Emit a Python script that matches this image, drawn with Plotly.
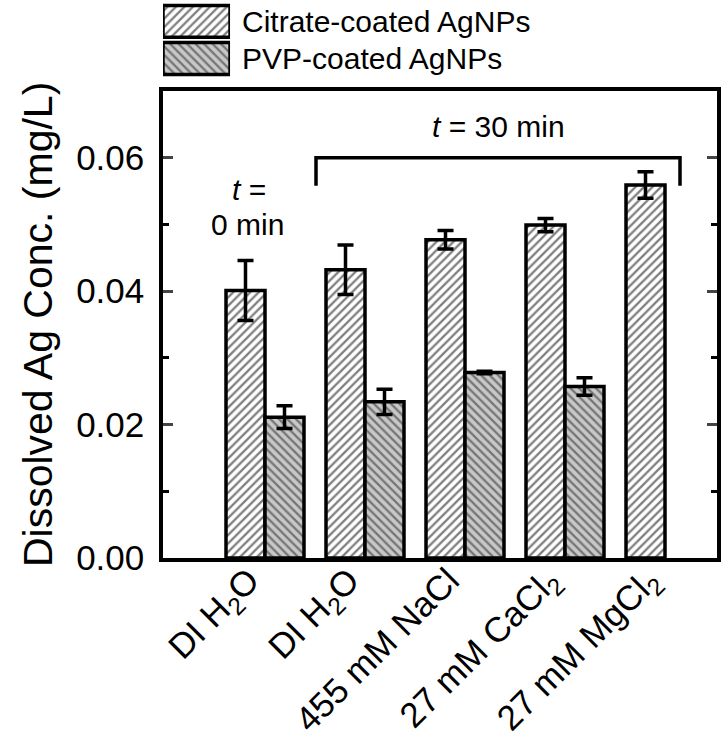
import plotly.graph_objects as go

# categories (x positions are indices; labels go on ticks)
conditions = ["DI H<sub>2</sub>O", "DI H<sub>2</sub>O", "455 mM NaCl",
              "27 mM CaCl<sub>2</sub>", "27 mM MgCl<sub>2</sub>"]
positions = [0, 1, 2, 3, 4]

# dissolved Ag (mg/L)
citrate_conc = [0.0401, 0.0432, 0.0477, 0.0499, 0.0559]
citrate_err = [0.0045, 0.0037, 0.0014, 0.0010, 0.0020]
pvp_conc = [0.0211, 0.0234, 0.0278, 0.0257, None]
pvp_err = [0.0017, 0.0019, 0.0002, 0.0013, None]

y_ticks = [0.00, 0.02, 0.04, 0.06]

series_names = ["Citrate-coated AgNPs", "PVP-coated AgNPs"]
legend_keys = [1, 1]  # full-width key boxes for the hand-made legend

FONT = "Liberation Sans, Arial, sans-serif"
PVP_GREY = "#c8c8c8"
LINE_W = 3.5

citrate_marker = dict(color="white", line=dict(color="black", width=LINE_W),
                      pattern=dict(shape="/", fgcolor="black", bgcolor="white",
                                   size=6, solidity=0.38))
pvp_marker = dict(color=PVP_GREY, line=dict(color="black", width=LINE_W),
                  pattern=dict(shape="\\", fgcolor="#222222", bgcolor=PVP_GREY,
                               size=6, solidity=0.38))

fig = go.Figure()

fig.add_trace(go.Bar(
    x=positions, y=citrate_conc, name=series_names[0], showlegend=False,
    error_y=dict(type="data", array=citrate_err, color="black", thickness=LINE_W, width=8),
    marker=citrate_marker,
))
fig.add_trace(go.Bar(
    x=positions, y=pvp_conc, name=series_names[1], showlegend=False,
    error_y=dict(type="data", array=pvp_err, color="black", thickness=LINE_W, width=8),
    marker=pvp_marker,
))

# legend keys drawn as big patterned boxes above the plot
for name, key, mk in zip(series_names, legend_keys, [citrate_marker, pvp_marker]):
    fig.add_trace(go.Bar(
        x=[key], y=[name], orientation="h", xaxis="x2", yaxis="y2",
        marker=mk, showlegend=False, hoverinfo="skip", width=0.86,
    ))
    fig.add_annotation(xref="x2", yref="y2", x=1, y=name, xshift=10, text=name,
                       xanchor="left", showarrow=False,
                       font=dict(size=30, family=FONT, color="black"))

# bracket over the 30 min conditions
fig.add_shape(type="path", xref="x", yref="y",
              path="M 0.51,0.0558 L 0.51,0.06 L 4.15,0.06 L 4.15,0.0558",
              line=dict(color="black", width=LINE_W))

fig.add_annotation(x=2.33, y=0.0647, text="<i>t</i> = 30 min", showarrow=False,
                   font=dict(size=30, family=FONT, color="black"))
fig.add_annotation(x=-0.16, y=0.0552, text="<i>t</i> =", showarrow=False,
                   font=dict(size=30, family=FONT, color="black"))
fig.add_annotation(x=-0.18, y=0.0500, text="0 min", showarrow=False,
                   font=dict(size=30, family=FONT, color="black"))

# y-axis title placed by hand
fig.add_annotation(xref="paper", yref="paper", x=-0.272, y=0.418,
                   text="Dissolved Ag Conc. (mg/L)", textangle=-90, showarrow=False,
                   font=dict(size=41, family=FONT, color="black"))

fig.update_layout(
    width=723, height=739,
    margin=dict(l=163, r=6, t=0, b=181),
    barmode="group", bargap=0.22, bargroupgap=0,
    plot_bgcolor="white", paper_bgcolor="white",
    font=dict(family=FONT, size=30, color="black"),
    showlegend=False,
    xaxis=dict(
        range=[-1.02, 4.52], tickvals=positions, ticktext=conditions,
        tickangle=-45, tickfont=dict(size=35), ticks="",
        ticklabelshift=-16, ticklabelstandoff=-16,
        showline=True, linecolor="black", linewidth=LINE_W, mirror=True,
        showgrid=False, zeroline=False, automargin=False,
    ),
    yaxis=dict(
        domain=[0, 0.837],
        range=[0, 0.07], tickvals=y_ticks, tickformat=".2f",
        tickfont=dict(size=35), ticks="inside", ticklen=10, tickwidth=3,
        ticklabelstandoff=8,
        minor=dict(dtick=0.01, ticks="inside", ticklen=6, tickwidth=3, tickcolor="black"),
        showline=True, linecolor="black", linewidth=LINE_W, mirror="allticks",
        showgrid=False, zeroline=False, automargin=False,
    ),
    xaxis2=dict(domain=[0, 0.121], anchor="y2", range=[0, 1], visible=False,
                fixedrange=True),
    yaxis2=dict(domain=[0.862, 0.995], anchor="x2", visible=False,
                categoryorder="array", categoryarray=series_names[::-1],
                range=[-0.5, 1.5], fixedrange=True),
)

# drop the browser's default page margin so the figure sits at the top-left corner
fig.write_html("out.html", config={"displayModeBar": False},
               post_script="document.body.style.margin='0';document.body.style.overflow='hidden';")
